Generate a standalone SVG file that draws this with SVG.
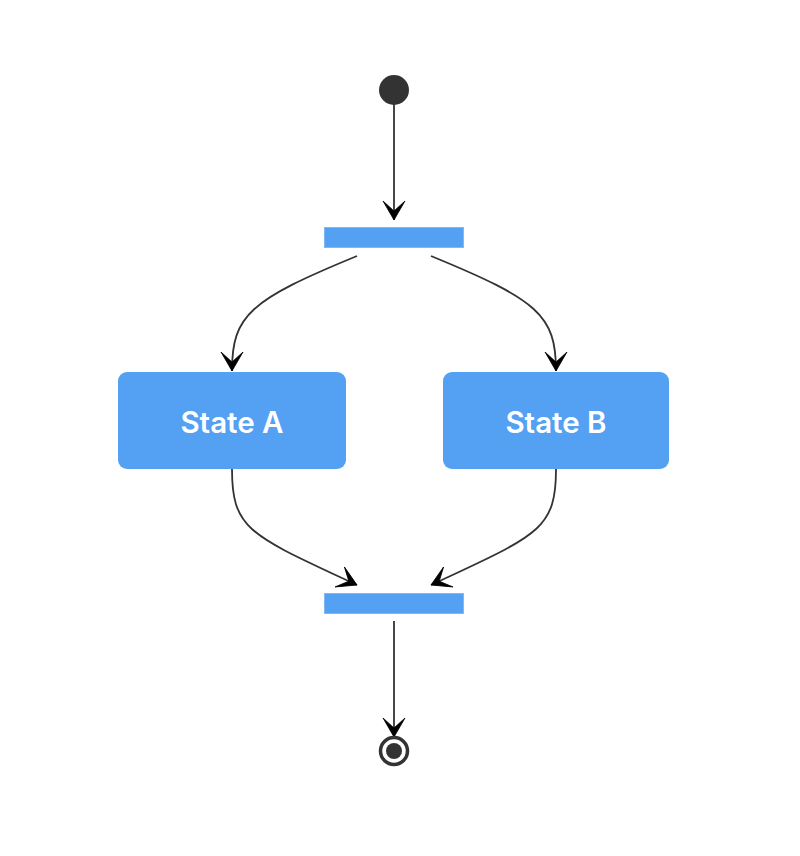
<svg xmlns="http://www.w3.org/2000/svg" width="800" height="856" viewBox="0 0 800 856">
<style>
.bar{fill:#54a0f2;stroke:#7fb8f5;stroke-width:1}
.state{fill:#54a0f2}
.lbl{font-family:Inter,"Liberation Sans",sans-serif;font-size:29.5px;font-weight:600;fill:#ffffff;text-anchor:middle;dominant-baseline:central}
.edge{fill:none;stroke:#333333;stroke-width:1.8}
</style>
<defs>
<marker id="arr" markerUnits="userSpaceOnUse" viewBox="-20 -12 22 24" refX="0" refY="0" markerWidth="22" markerHeight="24" orient="auto">
<path d="M0,0 L-19,-11 L-9,0 L-19,11 Z" fill="#000000" stroke="#000000" stroke-width="0.8" stroke-linejoin="round"/>
</marker>
</defs>
<rect width="800" height="856" fill="#ffffff"/>
<g id="connectors">
<path class="edge" d="M394,104 L394,220" marker-end="url(#arr)"/>
<path class="edge" d="M357,256 C250,300 232,315 232,371" marker-end="url(#arr)"/>
<path class="edge" d="M431,256 C538,300 556,315 556,371" marker-end="url(#arr)"/>
<path class="edge" d="M232,469 C232,530 250,535 357,585" marker-end="url(#arr)"/>
<path class="edge" d="M556,469 C556,530 538,535 431,585" marker-end="url(#arr)"/>
<path class="edge" d="M394,621 L394,737" marker-end="url(#arr)"/>
</g>
<g id="start"><circle cx="394" cy="90" r="15" fill="#333333"/></g>
<g id="fork"><rect class="bar" x="324.5" y="227.5" width="139" height="20"/></g>
<g id="stateA"><rect class="state" x="118" y="372" width="228" height="97" rx="9"/><text class="lbl" x="232" y="422">State A</text></g>
<g id="stateB"><rect class="state" x="443" y="372" width="226" height="97" rx="9"/><text class="lbl" x="556" y="422">State B</text></g>
<g id="join"><rect class="bar" x="324.5" y="593.5" width="139" height="20"/></g>
<g id="end"><circle cx="394" cy="751" r="13.5" fill="#ffffff" stroke="#333333" stroke-width="3.5"/><circle cx="394" cy="751" r="8" fill="#333333"/></g>
</svg>
